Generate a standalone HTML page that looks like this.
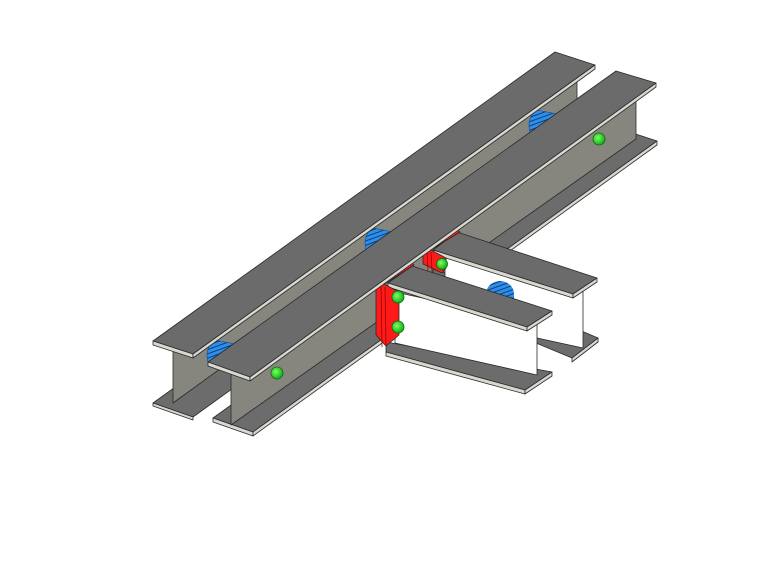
<!DOCTYPE html>
<html><head><style>html,body{margin:0;padding:0;background:#fff;}svg{display:block}</style></head>
<body>
<svg width="768" height="576" viewBox="0 0 768 576" xmlns="http://www.w3.org/2000/svg">
<defs>
<pattern id="h" width="4" height="4" patternUnits="userSpaceOnUse" patternTransform="rotate(-20)">
<rect width="4" height="4" fill="#2f8fe8"/><line x1="0" y1="3.5" x2="4" y2="3.5" stroke="#0a3f80" stroke-width="1"/>
</pattern>
<radialGradient id="g" cx="0.4" cy="0.4" r="0.6"><stop offset="0" stop-color="#7dff6a"/><stop offset="1" stop-color="#10b010"/></radialGradient>
</defs>
<g stroke="#2a2a2a" stroke-width="0.8" stroke-linejoin="round">
<!-- back beam bottom flange -->
<polygon points="153,403 560,110 600,124 193,417" fill="#6c6c6c"/>
<polygon points="153,403 193,417 193,420 153,406" fill="#d8d8d0"/>
<!-- back beam web -->
<polygon points="173,350 577,62 577,110 173,403" fill="#86867f"/>
<!-- blue holes -->
<path d="M215,340 L235,344 L208,362 Q204,348 215,340 Z" fill="url(#h)" stroke="#0a3f80" stroke-width="0.5"/>
<path d="M373,228 L393,232 L366,250 Q362,236 373,228 Z" fill="url(#h)" stroke="#0a3f80" stroke-width="0.5"/>
<path d="M537,110 L557,114 L530,132 Q526,118 537,110 Z" fill="url(#h)" stroke="#0a3f80" stroke-width="0.5"/>
<!-- back beam top flange -->
<polygon points="153,341 555,52 595,65 193,354" fill="#6b6b6b"/>
<polygon points="153,341 193,354 193,358 153,345" fill="#d8d8d0"/>
<polygon points="193,354 595,65 595,69 193,358" fill="#d8d8d0"/>
<!-- front beam bottom flange -->
<polygon points="213,418 617,128 657,141 253,432" fill="#6c6c6c"/>
<polygon points="213,418 253,432 253,436 213,422" fill="#d8d8d0"/>
<polygon points="253,432 657,141 657,145 253,436" fill="#d8d8d0"/>
<!-- front beam web -->
<polygon points="231,370 636,78 636,139 231,425" fill="#86867f"/>
<!-- secondary beam B -->
<polygon points="433,268 598,338 598,342 572,358 433,300" fill="#6c6c6c"/>
<polygon points="572,358 598,338 598,342 572,362" fill="#d8d8d0"/>
<polygon points="445,258 583,288 583,348 445,318" fill="#ffffff"/>
<path d="M486,294 a14,13 0 0 1 28,0 L514,302 L486,297 Z" fill="url(#h)" stroke="none"/>
<polygon points="457,232 597,278 573,294 433,250" fill="#6b6b6b"/>
<polygon points="433,250 573,294 573,298 433,254" fill="#d8d8d0"/>
<polygon points="573,294 597,278 597,282 573,298" fill="#d8d8d0"/>
<!-- plate B -->
<polygon points="427,248 458,230 460,232 429,251" fill="#ff1a1a"/>
<polygon points="423,252 427,248 446,258 446,268 442,273 423,264" fill="#ff1a1a"/>
<line x1="427" y1="250" x2="428" y2="271" stroke="#900"/>
<line x1="431" y1="252" x2="432" y2="272" stroke="#900"/>
<circle cx="442" cy="264" r="5.5" fill="url(#g)" stroke="#0a6a0a"/>
<!-- secondary beam A -->
<polygon points="386,342 552,372 525,390 386,352" fill="#6c6c6c"/>
<polygon points="386,352 525,390 525,394 386,356" fill="#d8d8d0"/>
<polygon points="525,390 552,372 552,376 525,394" fill="#d8d8d0"/>
<polygon points="395,292 537,323 537,375 395,343" fill="#ffffff"/>
<polygon points="412,266 552,311 527,327 388,283" fill="#6b6b6b"/>
<polygon points="388,283 527,327 527,331 388,287" fill="#d8d8d0"/>
<polygon points="527,327 552,311 552,315 527,331" fill="#d8d8d0"/>
<!-- plate A -->
<polygon points="381,282 412,263 414,265 383,285" fill="#ff1a1a"/>
<polygon points="376,290 382,283 399,292 399,335 386,346 376,335" fill="#ff1a1a"/>
<line x1="381" y1="285" x2="382" y2="347" stroke="#900"/>
<line x1="385" y1="287" x2="386" y2="346" stroke="#900"/>
<circle cx="398" cy="297" r="6" fill="url(#g)" stroke="#0a6a0a"/>
<circle cx="398" cy="327" r="6" fill="url(#g)" stroke="#0a6a0a"/>
<!-- front beam top flange -->
<polygon points="208,362 616,71 656,83 250,377" fill="#6b6b6b"/>
<polygon points="208,362 250,377 250,381 208,366" fill="#d8d8d0"/>
<polygon points="250,377 656,83 656,87 250,381" fill="#d8d8d0"/>
<!-- bolts on main web -->
<circle cx="277" cy="373" r="6" fill="url(#g)" stroke="#0a6a0a"/>
<circle cx="599" cy="139" r="6" fill="url(#g)" stroke="#0a6a0a"/>
</g>
</svg>
</body></html>
